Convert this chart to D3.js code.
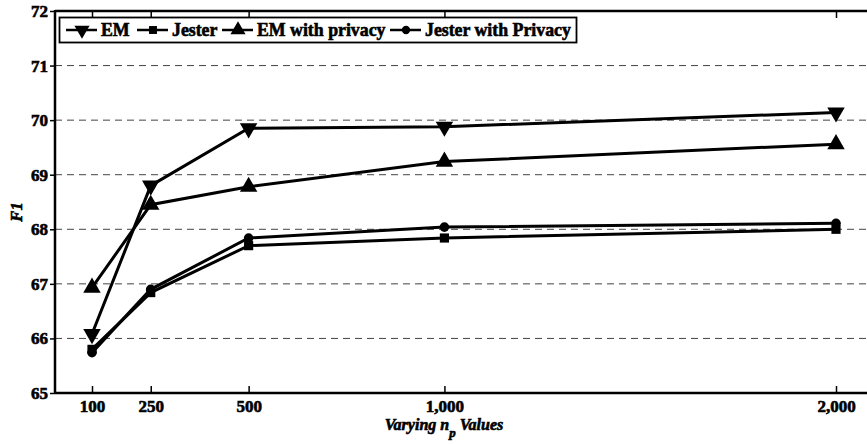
<!DOCTYPE html>
<html><head><meta charset="utf-8">
<script src="https://cdn.jsdelivr.net/npm/d3@7"></script>
<style>body{margin:0;background:#fff;} svg{display:block;} text{font-family:"Liberation Serif","Times New Roman",serif;font-weight:700;}</style>
</head><body>
<script>
const xValues = [100, 250, 500, 1000, 2000];
const xTickLabels = ["100", "250", "500", "1,000", "2,000"];
const yTicks = [65, 66, 67, 68, 69, 70, 71, 72];
const seriesNames = ["EM", "Jester", "EM with privacy", "Jester with Privacy"];
const emValues = [66.08, 68.80, 69.85, 69.88, 70.14];
const jesterValues = [65.80, 66.84, 67.70, 67.84, 68.00];
const emPrivValues = [66.93, 68.45, 68.78, 69.24, 69.56];
const jesterPrivValues = [65.74, 66.90, 67.84, 68.04, 68.11];
const seriesValues = [emValues, jesterValues, emPrivValues, jesterPrivValues];
const markers = ["down", "square", "up", "circle"];

const W = 867, H = 444;
const L = 55, T = 11, B = 393, R = 867;
const svg = d3.select("body").append("svg").attr("width", W).attr("height", H);

const x = d3.scaleLinear().domain([100, 2000]).range([92, 836]);
const y = d3.scaleLinear().domain([65, 72]).range([B, T]);

svg.append("defs").append("clipPath").attr("id", "clip")
  .append("rect").attr("x", L).attr("y", T - 8).attr("width", R - L + 10).attr("height", B - T + 16);

// grid
svg.append("g").selectAll("line").data(yTicks.filter(v => v > 65 && v < 72)).join("line")
  .attr("x1", L).attr("x2", R).attr("y1", d => y(d)).attr("y2", d => y(d))
  .attr("stroke", "#444").attr("stroke-width", 1).attr("stroke-dasharray", "7,5");

function boldify(sel, size) {
  sel.attr("font-size", size).attr("font-family", "Liberation Serif").attr("font-weight", 700)
    .attr("fill", "#000").attr("stroke", "#000").attr("stroke-width", 0.6);
}

// axes
const fs = 17;
const yAxis = d3.axisLeft(y).tickValues(yTicks).tickFormat(d3.format("d")).tickSize(5).tickPadding(2);
const gy = svg.append("g").attr("transform", `translate(${L},0)`).call(yAxis);
gy.select(".domain").remove();
gy.selectAll("line").attr("stroke", "#000").attr("stroke-width", 1.5);
boldify(gy.selectAll("text"), fs);

const xAxis = d3.axisBottom(x).tickValues(xValues).tickFormat((d, i) => xTickLabels[i]).tickSizeInner(-7).tickSizeOuter(0).tickPadding(7);
const gx = svg.append("g").attr("transform", `translate(0,${B})`).call(xAxis);
gx.select(".domain").remove();
gx.selectAll("line").attr("stroke", "#000").attr("stroke-width", 1.5);
boldify(gx.selectAll("text"), fs);

const xTop = d3.axisTop(x).tickValues(xValues).tickFormat("").tickSizeInner(-7).tickSizeOuter(0);
const gt = svg.append("g").attr("transform", `translate(0,${T})`).call(xTop);
gt.select(".domain").remove();
gt.selectAll("line").attr("stroke", "#000").attr("stroke-width", 1.5);

// spines
svg.append("line").attr("x1", L).attr("x2", R).attr("y1", B).attr("y2", B).attr("stroke", "#000").attr("stroke-width", 2.5);
svg.append("line").attr("x1", L).attr("x2", R).attr("y1", T).attr("y2", T).attr("stroke", "#000").attr("stroke-width", 2.5);
svg.append("line").attr("x1", L).attr("x2", L).attr("y1", T - 1).attr("y2", B + 1).attr("stroke", "#000").attr("stroke-width", 2.5);

// marker generator
function drawMarker(g, type, cx, cy, s) {
  if (type === "down") {
    g.append("path").attr("d", d3.symbol(d3.symbolTriangle, s * 11)())
      .attr("transform", `translate(${cx},${cy}) rotate(180)`).attr("fill", "#000");
  } else if (type === "up") {
    g.append("path").attr("d", d3.symbol(d3.symbolTriangle, s * 11)())
      .attr("transform", `translate(${cx},${cy})`).attr("fill", "#000");
  } else if (type === "square") {
    g.append("path").attr("d", d3.symbol(d3.symbolSquare, s * 7)())
      .attr("transform", `translate(${cx},${cy})`).attr("fill", "#000");
  } else {
    g.append("path").attr("d", d3.symbol(d3.symbolCircle, s * 6)())
      .attr("transform", `translate(${cx},${cy})`).attr("fill", "#000");
  }
}

const plot = svg.append("g").attr("clip-path", "url(#clip)");
const line = d3.line().x((d, i) => x(xValues[i])).y(d => y(d));
seriesValues.forEach((vals, si) => {
  plot.append("path").attr("d", line(vals)).attr("fill", "none").attr("stroke", "#000").attr("stroke-width", 3).attr("stroke-linejoin", "miter");
  vals.forEach((v, i) => drawMarker(plot, markers[si], x(xValues[i]), y(v), 12));
});

// legend
const lg = svg.append("g");
lg.append("rect").attr("x", 59.5).attr("y", 17.5).attr("width", 517).attr("height", 25).attr("fill", "#fff").attr("stroke", "#000").attr("stroke-width", 1.8);
const legendX = [66, 137, 222, 390];
seriesNames.forEach((name, i) => {
  const lx = legendX[i], ly = 30;
  lg.append("line").attr("x1", lx).attr("x2", lx + 31).attr("y1", ly).attr("y2", ly).attr("stroke", "#000").attr("stroke-width", 2.5);
  drawMarker(lg, markers[i], lx + 16, ly, 9);
  const t = lg.append("text").attr("x", lx + 35).attr("y", ly + 5.5).text(name);
  boldify(t, 17.8);
});

// axis titles
const xt = svg.append("text").attr("x", 444).attr("y", 430).attr("text-anchor", "middle");
boldify(xt, 16);
xt.attr("font-style", "italic");
xt.append("tspan").text("Varying n");
xt.append("tspan").attr("dy", 7).attr("font-size", 13).text("p");
xt.append("tspan").attr("dy", -7).text(" Values");

const yt = svg.append("text").attr("transform", "translate(22,212) rotate(-90)").attr("text-anchor", "middle").text("F1");
boldify(yt, 16.5);
yt.attr("font-style", "italic");
</script>
</body></html>
